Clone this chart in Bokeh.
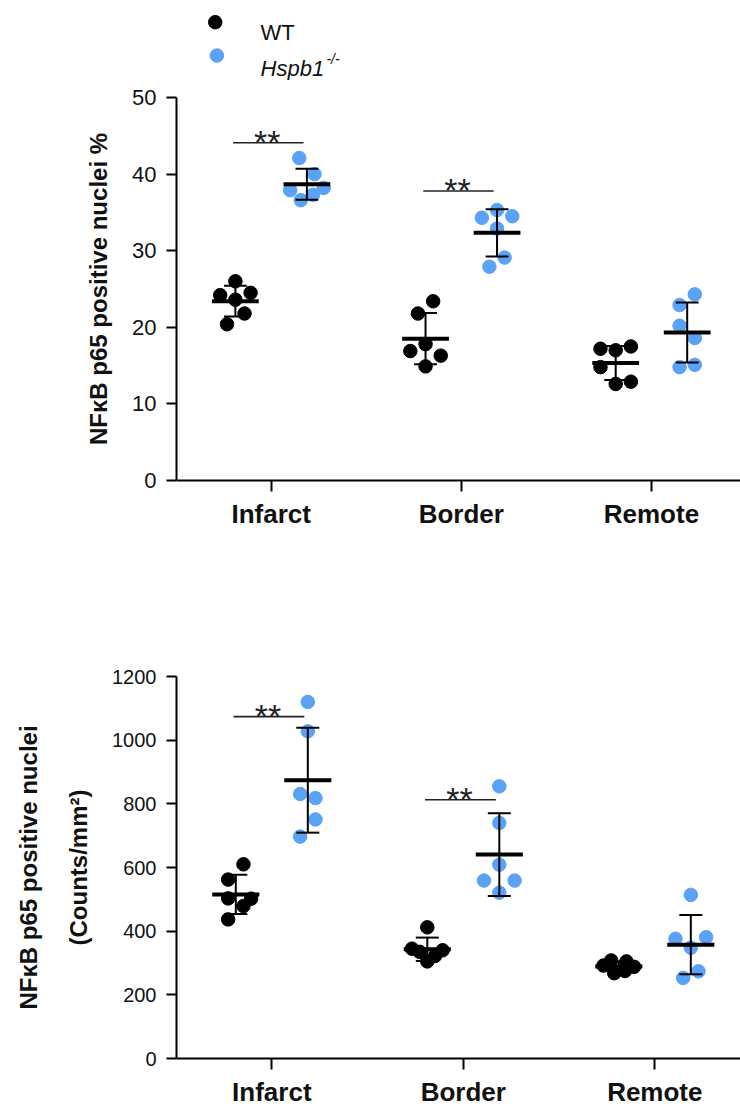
import numpy as np
from bokeh.plotting import figure
from bokeh.models import Range1d, FixedTicker, LinearAxis, ColumnDataSource
from bokeh.layouts import column
from bokeh.embed import file_html
from bokeh.resources import INLINE
from bokeh.core.properties import value

# ---------------- data ----------------
categories = ["Infarct", "Border", "Remote"]

# Top panel: NFkB p65 positive nuclei (%)
pct_wt_infarct = [26.0, 24.2, 23.6, 24.5, 21.8, 20.4]
pct_ko_infarct = [42.1, 40.0, 38.2, 37.9, 37.3, 36.6]
pct_wt_border = [23.4, 21.8, 17.8, 16.9, 16.3, 14.9]
pct_ko_border = [35.3, 34.3, 34.5, 32.9, 29.1, 27.9]
pct_wt_remote = [17.2, 17.0, 17.5, 14.8, 12.6, 12.9]
pct_ko_remote = [24.3, 22.9, 20.2, 18.6, 14.8, 15.1]
pct_ticks = [0, 10, 20, 30, 40, 50]
pct_sig_y = [44.1, 37.8]          # "**" bars for Infarct, Border

# Bottom panel: NFkB p65 positive nuclei (Counts/mm2)
cnt_wt_infarct = [610, 562, 503, 502, 479, 437]
cnt_ko_infarct = [1120, 1028, 831, 818, 751, 697]
cnt_wt_border = [412, 345, 340, 335, 322, 305]
cnt_ko_border = [855, 740, 609, 559, 559, 521]
cnt_wt_remote = [308, 305, 292, 288, 275, 268]
cnt_ko_remote = [514, 376, 381, 348, 274, 253]
cnt_ticks = [0, 200, 400, 600, 800, 1000, 1200]
cnt_sig_y = [1074, 813]

sig_text = "**"

# ---------------- layout / style ----------------
BLACK = "#000000"
BLUE = "#5AA2F5"
FONT = "Liberation Sans"
GROUP_OFFSET = 0.188
DOT_STEP = 0.08
MEAN_HALF = 0.123
CAP_HALF = 0.06
PX_PER_CAT = 191.5

# horizontal dot placement (in dot steps) to avoid overlap
pct_wt_jit = [[0, -1, 0, 1, 0.6, -0.55], [0.5, -0.5, 0, -1, 1, 0], [-1, 0, 1, -1, 0, 1]]
pct_ko_jit = [[-0.5, 0.5, 1.1, -1.1, 0.4, -0.4], [0, -1, 1, 0, 0.5, -0.5], [0.5, -0.5, -0.5, 0.5, -0.5, 0.5]]
cnt_wt_jit = [[0.5, -0.5, -0.5, 1, 0.5, -0.5], [0, -1, 1, -0.5, 0.5, 0], [-0.5, 0.5, -1, 1, 0.4, -0.3]]
cnt_ko_jit = [[0, 0, -0.5, 0.5, 0.5, -0.5], [0, 0, 0, -1, 1, 0], [0, -1, 1, 0, 0.5, -0.5]]


def style_axes(p, ticks, tick_font):
    p.xgrid.visible = False
    p.ygrid.visible = False
    p.outline_line_color = None
    p.background_fill_color = "white"
    p.border_fill_color = "white"

    xa = p.xaxis[0]
    xa.ticker = FixedTicker(ticks=[1, 2, 3])
    xa.major_label_overrides = {i + 1: c for i, c in enumerate(categories)}
    xa.major_label_text_font = FONT
    xa.major_label_text_font_style = "bold"
    xa.major_label_text_font_size = "26px"
    xa.major_label_text_color = "#111111"
    xa.major_label_standoff = 7
    xa.major_tick_out = 11
    xa.major_tick_in = 0
    xa.minor_tick_line_color = None
    xa.axis_line_width = 2
    xa.major_tick_line_width = 2

    ya = p.yaxis[0]
    ya.ticker = FixedTicker(ticks=ticks)
    ya.major_label_text_font = FONT
    ya.major_label_text_font_size = tick_font
    ya.major_label_text_color = "#111111"
    ya.major_label_standoff = 10
    ya.major_tick_out = 10
    ya.major_tick_in = 0
    ya.minor_tick_line_color = None
    ya.axis_line_width = 2
    ya.major_tick_line_width = 2
    ya.axis_label_text_font = FONT
    ya.axis_label_text_font_style = "bold"
    ya.axis_label_text_font_size = "24px"
    ya.axis_label_text_color = "#111111"


def draw_panel(p, wt_sets, ko_sets, wt_jit, ko_jit, sig_y):
    xs, ys, cs = [], [], []
    mx0, mx1, my = [], [], []
    ex, ey0, ey1 = [], [], []
    cx0, cx1, cy = [], [], []
    for i in range(len(categories)):
        c = i + 1
        for vals, jit, off, col in ((wt_sets[i], wt_jit[i], -GROUP_OFFSET, BLACK),
                                    (ko_sets[i], ko_jit[i], GROUP_OFFSET, BLUE)):
            gx = c + off
            xs += [gx + j * DOT_STEP for j in jit]
            ys += list(vals)
            cs += [col] * len(vals)
            m = float(np.mean(vals))
            s = float(np.std(vals, ddof=1))
            mx0.append(gx - MEAN_HALF); mx1.append(gx + MEAN_HALF); my.append(m)
            ex.append(gx); ey0.append(m - s); ey1.append(m + s)
            for yy in (m - s, m + s):
                cx0.append(gx - CAP_HALF); cx1.append(gx + CAP_HALF); cy.append(yy)

    p.scatter(x="x", y="y", color="c", size=13.5,
              source=ColumnDataSource(dict(x=xs, y=ys, c=cs)))
    p.segment(x0=ex, y0=ey0, x1=ex, y1=ey1, line_color=BLACK, line_width=2)
    p.segment(x0=cx0, y0=cy, x1=cx1, y1=cy, line_color=BLACK, line_width=2)
    p.segment(x0=mx0, y0=my, x1=mx1, y1=my, line_color=BLACK, line_width=4)

    sx = [i + 1 for i in range(len(sig_y))]
    p.segment(x0=[x - 0.2 for x in sx], y0=sig_y, x1=[x + 0.17 for x in sx], y1=sig_y,
              line_color="#222222", line_width=1.6)
    p.text(x=[x - 0.02 for x in sx], y=sig_y, text=[sig_text] * len(sx),
           text_align="center", text_baseline="alphabetic", y_offset=-1,
           text_font=value(FONT), text_font_size="34px", text_color="#222222")


# ---------------- legend figure (page coordinates) ----------------
leg = figure(width=740, height=80, x_range=Range1d(172, 740), y_range=Range1d(80, 0),
             output_backend="svg", toolbar_location=None, x_axis_type=None, y_axis_type=None,
             min_border_left=172, min_border_right=0, min_border_top=0, min_border_bottom=0)
leg.outline_line_color = None
leg.xgrid.visible = False
leg.ygrid.visible = False
leg.scatter(x=[211, 212.7], y=[21.7, 55], color=[BLACK, BLUE], size=13.5)
leg.text(x=[256.7], y=[31.7], text=["WT"], text_font=value(FONT), text_font_size="22px",
         text_baseline="alphabetic", text_color="#111111")
leg.text(x=[256.7], y=[68.3], text=["Hspb1"], text_font=value(FONT), text_font_size="22px",
         text_font_style="italic", text_baseline="alphabetic", text_color="#111111")
leg.text(x=[323], y=[58], text=["-/-"], text_font=value(FONT), text_font_size="14px",
         text_font_style="italic", text_baseline="alphabetic", text_color="#111111")

# ---------------- top figure ----------------
p1 = figure(width=740, height=540, x_range=Range1d(0.5023, 0.5023 + 568 / PX_PER_CAT),
            y_range=Range1d(0, 50), output_backend="svg", toolbar_location=None,
            min_border_left=172, min_border_right=0, min_border_top=17, min_border_bottom=140)
style_axes(p1, pct_ticks, "22px")
p1.yaxis[0].axis_label = "NFκB p65 positive nuclei %"
p1.yaxis[0].axis_label_standoff = 17
draw_panel(p1,
           [pct_wt_infarct, pct_wt_border, pct_wt_remote],
           [pct_ko_infarct, pct_ko_border, pct_ko_remote],
           pct_wt_jit, pct_ko_jit, pct_sig_y)

# ---------------- bottom figure ----------------
p2 = figure(width=740, height=489, x_range=Range1d(0.5023, 0.5023 + 564 / PX_PER_CAT),
            y_range=Range1d(0, 1200), output_backend="svg", toolbar_location=None,
            min_border_left=176, min_border_right=0, min_border_top=56, min_border_bottom=50)
style_axes(p2, cnt_ticks, "20px")
p2.yaxis[0].axis_label = "(Counts/mm²)"
p2.yaxis[0].axis_label_standoff = 17
outer = LinearAxis(ticker=FixedTicker(ticks=[]), axis_label="NFκB p65 positive nuclei",
                   axis_line_color=None, major_tick_line_color=None, minor_tick_line_color=None,
                   major_label_text_font_size="0px", axis_label_standoff=21,
                   axis_label_text_font=FONT, axis_label_text_font_style="bold",
                   axis_label_text_font_size="24px", axis_label_text_color="#111111")
p2.add_layout(outer, "left")
draw_panel(p2,
           [cnt_wt_infarct, cnt_wt_border, cnt_wt_remote],
           [cnt_ko_infarct, cnt_ko_border, cnt_ko_remote],
           cnt_wt_jit, cnt_ko_jit, cnt_sig_y)

layout = column(leg, p1, p2, spacing=0)
open("out.html", "w").write(file_html(layout, INLINE))
